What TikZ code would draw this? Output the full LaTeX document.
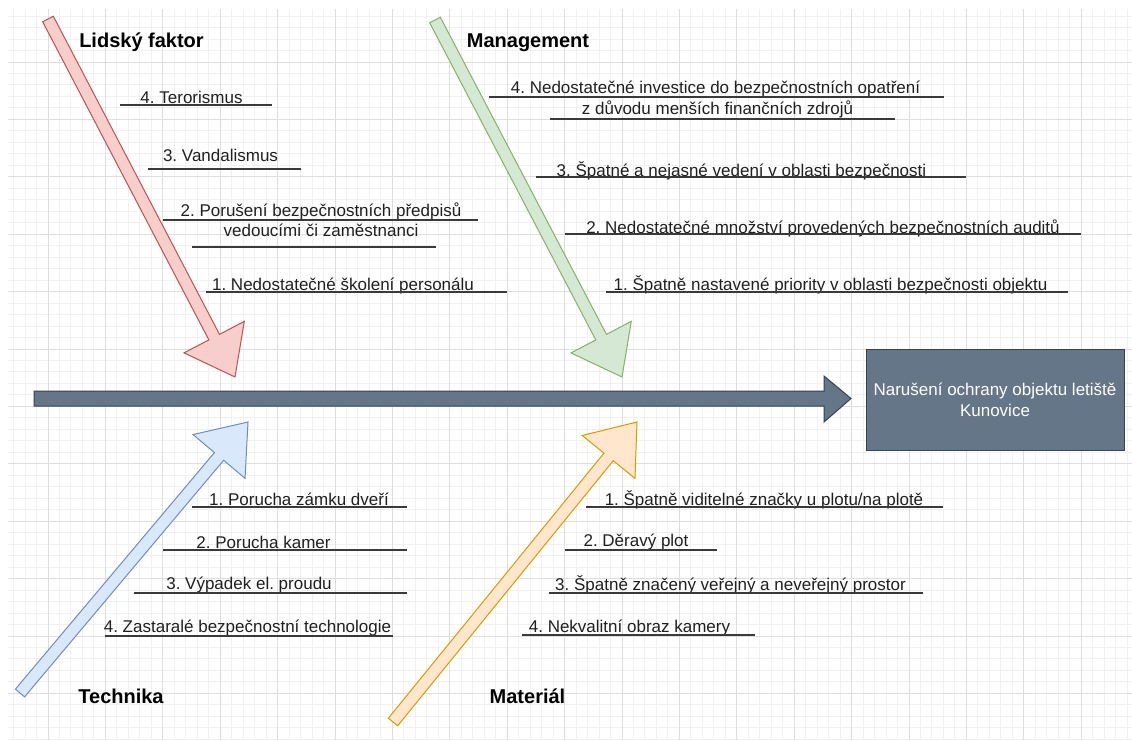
\documentclass[tikz,border=0pt]{standalone}
\usepackage{fontspec}
\setmainfont{Liberation Sans}
\usetikzlibrary{calc}
\frenchspacing

\definecolor{gridminor}{HTML}{F1F1F1}
\definecolor{gridmajor}{HTML}{DEDEDE}
\definecolor{redfill}{HTML}{F8CECC}\definecolor{redline}{HTML}{B85450}
\definecolor{greenfill}{HTML}{D5E8D4}\definecolor{greenline}{HTML}{82B366}
\definecolor{bluefill}{HTML}{DAE8FC}\definecolor{blueline}{HTML}{6C8EBF}
\definecolor{orangefill}{HTML}{FFE6CC}\definecolor{orangeline}{HTML}{D79B00}
\definecolor{spinefill}{HTML}{647687}\definecolor{spineline}{HTML}{314354}
\definecolor{labeltext}{HTML}{202020}
\definecolor{underline}{HTML}{3A3A3A}

% a wide "flex" arrow from a tail coordinate to a tip coordinate
\newcommand{\causearrow}[4]{%
  \coordinate (#1-h) at ($(#3)!45pt!(#2)$);
  \filldraw[#4]
    ($(#2)!6pt!90:(#3)$) -- ($(#1-h)!6pt!90:(#3)$) -- ($(#1-h)!34pt!90:(#3)$)
    -- (#3)
    -- ($(#1-h)!34pt!-90:(#3)$) -- ($(#1-h)!6pt!-90:(#3)$) -- ($(#2)!6pt!-90:(#3)$)
    -- cycle;
}

\tikzset{
  cause/.style={anchor=base, inner sep=0pt, text=labeltext, font=\fontsize{17}{21}\selectfont},
  title/.style={anchor=base, inner sep=0pt, text=black, font=\fontsize{20}{24}\selectfont\bfseries},
  rule/.style={draw=underline, line width=1.5pt},
  effect/.style={draw=spineline, fill=spinefill, line width=1pt, minimum width=258pt,
    minimum height=101pt, inner sep=0pt, align=center, text=white,
    font=\fontsize{17}{21}\selectfont},
}

\begin{document}
\begin{tikzpicture}[x=1pt, y=-1pt, line join=miter]
\useasboundingbox (0,0) rectangle (1132,740);
\fill[white] (0,0) rectangle (1132,740);

% drawing grid
\begin{scope}
  \clip (8,9) rectangle (1132,740);
  \foreach \i in {0,...,97} \draw[gridminor, line width=1pt] ({13.56+11.48*\i},9) -- ({13.56+11.48*\i},740);
  \foreach \i in {0,...,63} \draw[gridminor, line width=1pt] (8,{16.08+11.48*\i}) -- (1132,{16.08+11.48*\i});
  \foreach \i in {0,...,18} \draw[gridmajor, line width=1pt] ({48+57.4*\i},9) -- ({48+57.4*\i},740);
  \foreach \i in {0,...,11} \draw[gridmajor, line width=1pt] (8,{62+57.4*\i}) -- (1132,{62+57.4*\i});
\end{scope}

% spine
\filldraw[fill=spinefill, draw=spineline, line width=1pt]
  (34,391) -- (824,391) -- (824,376) -- (851,398.5) -- (824,422) -- (824,406) -- (34,406) -- cycle;

% effect
\node[effect] (effect) at (995,399.5) {Narušení ochrany objektu letiště\\Kunovice};

% cause arrows
\coordinate (humanT) at (48,19);   \coordinate (humanP) at (235,377);
\coordinate (mgmtT) at (435,20);   \coordinate (mgmtP) at (622,377);
\coordinate (techT) at (20,693);   \coordinate (techP) at (248,422);
\coordinate (matT) at (393,722);   \coordinate (matP) at (637,422);
\causearrow{human}{humanT}{humanP}{fill=redfill, draw=redline, line width=1pt}
\causearrow{mgmt}{mgmtT}{mgmtP}{fill=greenfill, draw=greenline, line width=1pt}
\causearrow{tech}{techT}{techP}{fill=bluefill, draw=blueline, line width=1pt}
\causearrow{mat}{matT}{matP}{fill=orangefill, draw=orangeline, line width=1pt}

% category titles
\node[title] (tHuman) at (141.5,47) {Lidský faktor};
\node[title] (tMgmt) at (528,47) {Management};
\node[title] (tTech) at (121,703) {Technika};
\node[title] (tMat) at (527.5,703) {Materiál};

% Lidský faktor
\node[cause] (h4) at (191.5,103) {4. Terorismus};
\draw[rule] (120,105) -- (272,105);
\node[cause] (h3) at (220.5,161) {3. Vandalismus};
\draw[rule] (148,169) -- (301,169);
\node[cause] (h2a) at (321,216) {2. Porušení bezpečnostních předpisů};
\draw[rule] (163,220) -- (478,220);
\node[cause] (h2b) at (321,236) {vedoucími či zaměstnanci};
\draw[rule] (192,247) -- (436,247);
\node[cause] (h1) at (343,290) {1. Nedostatečné školení personálu};
\draw[rule] (206,292) -- (507,292);

% Management
\node[cause] (m4a) at (715.5,93) {4. Nedostatečné investice do bezpečnostních opatření};
\draw[rule] (489,97) -- (944,97);
\node[cause] (m4b) at (717.5,114) {z důvodu menších finančních zdrojů};
\draw[rule] (550,119) -- (895,119);
\node[cause] (m3) at (741.5,176) {3. Špatné a nejasné vedení v oblasti bezpečnosti};
\draw[rule] (536,177) -- (966,177);
\node[cause] (m2) at (823,233) {2. Nedostatečné množství provedených bezpečnostních auditů};
\draw[rule] (565,234) -- (1081,234);
\node[cause] (m1) at (830.5,290) {1. Špatně nastavené priority v oblasti bezpečnosti objektu};
\draw[rule] (606,292) -- (1068,292);

% Technika
\node[cause] (t1) at (299,505) {1. Porucha zámku dveří};
\draw[rule] (192,507) -- (407,507);
\node[cause] (t2) at (263.5,548) {2. Porucha kamer};
\draw[rule] (163,550) -- (407,550);
\node[cause] (t3) at (249,589) {3. Výpadek el. proudu};
\draw[rule] (134,593) -- (407,593);
\node[cause] (t4) at (247.5,632) {4. Zastaralé bezpečnostní technologie};
\draw[rule] (105,636) -- (393,636);

% Materiál
\node[cause] (x1) at (764,505) {1. Špatně viditelné značky u plotu/na plotě};
\draw[rule] (586,507) -- (943,507);
\node[cause] (x2) at (636,546) {2. Děravý plot};
\draw[rule] (565,550) -- (717,550);
\node[cause] (x3) at (730.5,590) {3. Špatně značený veřejný a neveřejný prostor};
\draw[rule] (549,593) -- (923,593);
\node[cause] (x4) at (629.5,632) {4. Nekvalitní obraz kamery};
\draw[rule] (522,635) -- (755,635);
\end{tikzpicture}
\end{document}
